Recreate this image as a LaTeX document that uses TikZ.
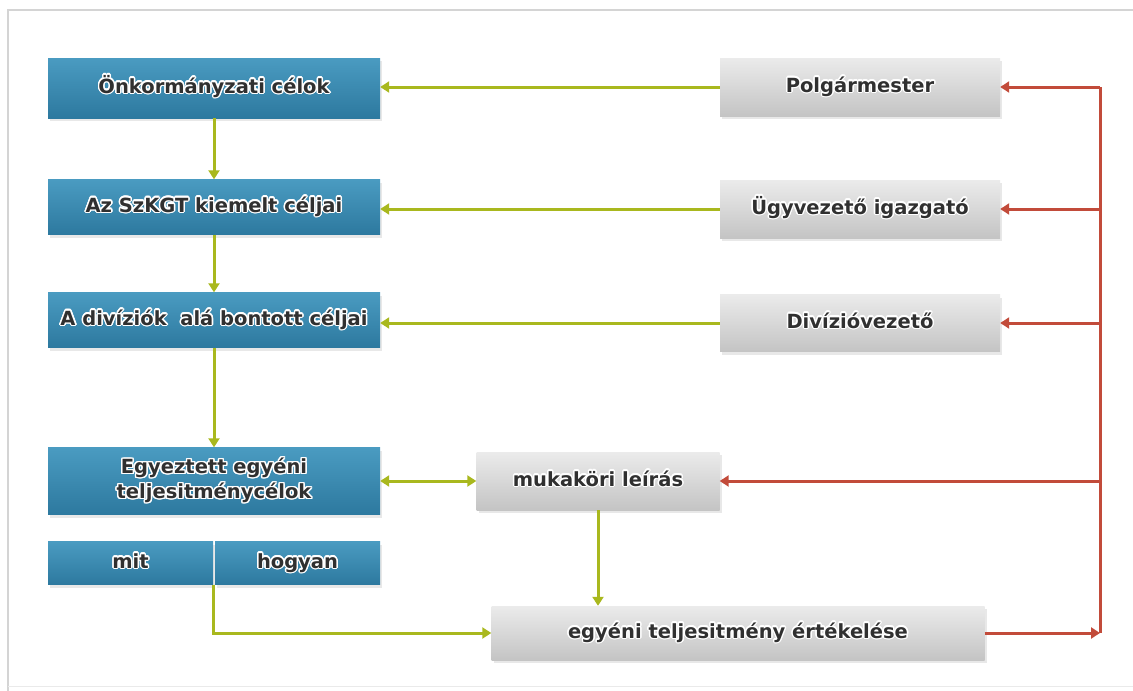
\documentclass[tikz,border=0pt]{standalone}
\usepackage{fontspec}
\setmainfont{DejaVu Sans}
\usepackage{contour}
\contourlength{1.4pt}
\usetikzlibrary{arrows.meta,shadows}
\definecolor{blueTop}{HTML}{4A9BC1}
\definecolor{blueBot}{HTML}{2D799F}
\definecolor{greyTop}{HTML}{EBEBEB}
\definecolor{greyBot}{HTML}{C4C4C4}
\definecolor{textdark}{HTML}{303030}
\definecolor{flowgreen}{HTML}{A9B81E}
\definecolor{flowred}{HTML}{C24B3A}
\definecolor{framegrey}{HTML}{D4D4D4}
\newcommand{\halo}[1]{\contour{white}{#1}}
\begin{document}
\begin{tikzpicture}[x=1pt,y=-1pt,
  boxbase/.style={rectangle, draw=none, inner sep=0pt, align=center,
    text=textdark, font=\bfseries\fontsize{19.5}{25}\selectfont,
    drop shadow={shadow xshift=2pt, shadow yshift=-3pt, opacity=0.18}},
  oneline/.style={text height=14pt, text depth=4pt},
  bluebox/.style={boxbase, top color=blueTop, bottom color=blueBot},
  greybox/.style={boxbase, oneline, top color=greyTop, bottom color=greyBot},
  greenarrow/.style={draw=flowgreen, line width=3pt,
    -{Triangle[width=11pt,length=9pt]}},
  greenboth/.style={draw=flowgreen, line width=3pt,
    {Triangle[width=11pt,length=9pt]}-{Triangle[width=11pt,length=9pt]}},
  redline/.style={draw=flowred, line width=3pt},
  redarrow/.style={redline, -{Triangle[width=11pt,length=9pt]}}]

\useasboundingbox (0,0) rectangle (1133,691);
% light frame
\draw[framegrey, line width=2pt] (8,691) -- (8,10) -- (1133,10);
\draw[framegrey!50, line width=1pt] (8,686) -- (1133,686);

% left column: goals
\node[bluebox, oneline, minimum width=332pt, minimum height=60pt] (c1) at (214,88)
  {\halo{Önkormányzati célok}};
\node[bluebox, oneline, minimum width=332pt, minimum height=55pt] (c2) at (214,207)
  {\halo{Az SzKGT kiemelt céljai}};
\node[bluebox, oneline, minimum width=332pt, minimum height=55pt] (c3) at (214,320)
  {\halo{A divíziók\ \ alá bontott céljai}};
\node[bluebox, minimum width=332pt, minimum height=67pt] (c4) at (214,481)
  {\halo{Egyeztett egyéni}\\\halo{teljesitménycélok}};
\node[bluebox, oneline, minimum width=165pt, minimum height=43pt] (mit) at (130.5,563)
  {\halo{mit}};
\node[bluebox, oneline, minimum width=165pt, minimum height=43pt] (hogyan) at (297.5,563)
  {\halo{hogyan}};

% right column: roles
\node[greybox, minimum width=280pt, minimum height=58pt] (pm) at (860,87)
  {\halo{Polgármester}};
\node[greybox, minimum width=280pt, minimum height=58pt] (uv) at (860,209)
  {\halo{Ügyvezető igazgató}};
\node[greybox, minimum width=280pt, minimum height=57pt] (dv) at (860,323)
  {\halo{Divízióvezető}};
\node[greybox, minimum width=243pt, minimum height=58pt] (mk) at (598,481)
  {\halo{mukaköri leírás}};
\node[greybox, minimum width=493pt, minimum height=54pt] (eg) at (738,633)
  {\halo{egyéni teljesitmény értékelése}};

% green flow
\draw[greenarrow] (pm.west) -- (pm.west -| c1.east);
\draw[greenarrow] (uv.west) -- (uv.west -| c2.east);
\draw[greenarrow] (dv.west) -- (dv.west -| c3.east);
\draw[greenarrow] (c1.south) -- (c2.north);
\draw[greenarrow] (c2.south) -- (c3.north);
\draw[greenarrow] (c3.south) -- (c4.north);
\draw[greenboth] (c4.east) -- (mk.west);
\draw[greenarrow] (mk.south) -- (mk.south |- eg.north);
\draw[greenarrow] (mit.south east) |- (eg.west);

% red feedback loop
\coordinate (r1) at (1100,87);
\coordinate (r2) at (1100,209);
\coordinate (r3) at (1100,323);
\coordinate (r4) at (1100,481);
\coordinate (rb) at (1100,633);
\draw[redline] (r1) -- (rb);
\draw[redarrow] (r1) -- (pm.east);
\draw[redarrow] (r2) -- (uv.east);
\draw[redarrow] (r3) -- (dv.east);
\draw[redarrow] (r4) -- (mk.east);
\draw[redarrow] (eg.east) -- (rb);
\end{tikzpicture}
\end{document}
